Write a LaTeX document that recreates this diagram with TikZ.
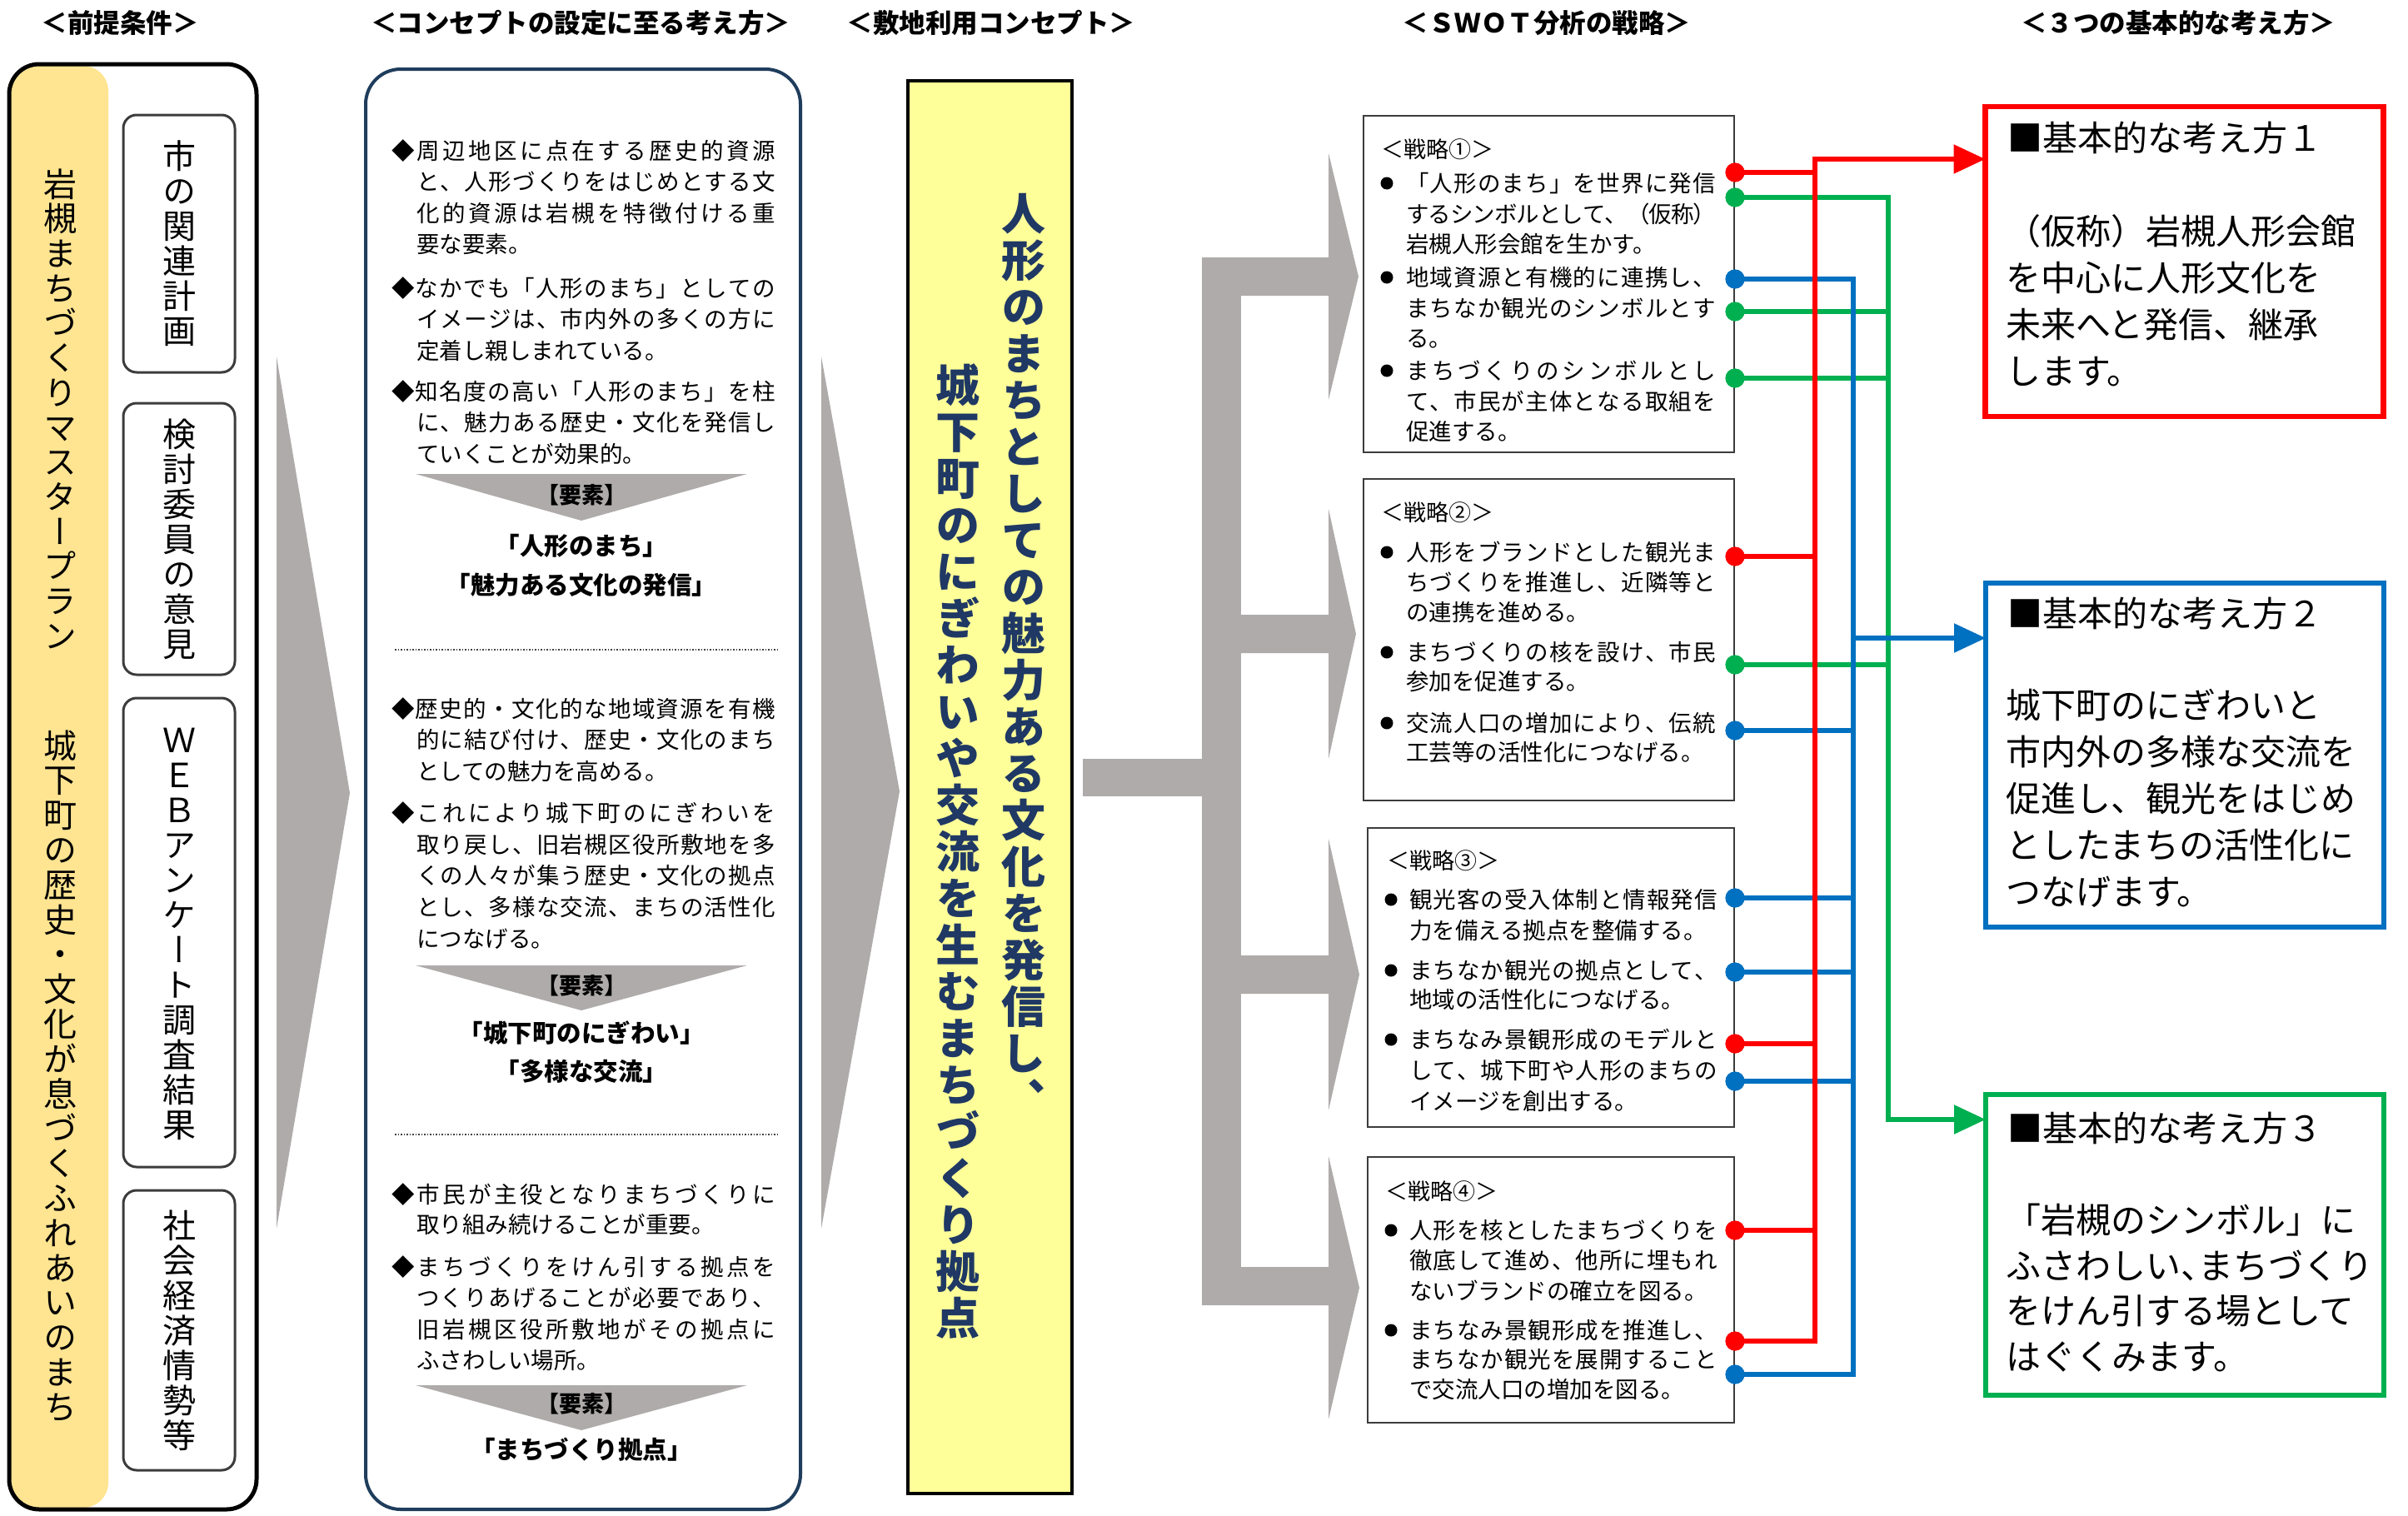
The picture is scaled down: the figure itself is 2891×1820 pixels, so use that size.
\documentclass[tikz,border=0pt]{standalone}
\usepackage{fontspec}
\setmainfont{Noto Sans CJK JP}
\newfontfamily\jpv[RawFeature=+vert]{Noto Sans CJK JP}
\usetikzlibrary{arrows.meta}
\definecolor{yelA}{RGB}{255,228,145}
\definecolor{yelB}{RGB}{255,255,153}
\definecolor{navyT}{RGB}{31,56,100}
\definecolor{navyB}{RGB}{31,61,92}
\definecolor{gry}{RGB}{174,171,170}
\definecolor{cred}{RGB}{255,0,0}
\definecolor{cgrn}{RGB}{0,176,80}
\definecolor{cblu}{RGB}{0,112,192}
\definecolor{dgr}{RGB}{60,60,60}
\newcommand\fs[1]{\fontsize{#1pt}{#1pt}\selectfont}
\def\jstrut{\vrule height .88em depth .12em width 0pt\relax}
\def\vtendmark{VTEND}
\newlength\vtp
\newlength\jw
\newlength\jind
\newcommand\vtext[2]{\setlength\vtp{#1}\vbox{\offinterlineskip\vtloop#2\vtendmark}}
\def\vtloop#1{\ifx#1\vtendmark\else\hbox to 1em{\hss\vbox to\vtp{\vss\hbox{\jstrut#1}\vss}\hss}\expandafter\vtloop\fi}
\def\sprloop#1{\ifx#1\vtendmark\else#1\expandafter\sprloopb\fi}
\def\sprloopb#1{\ifx#1\vtendmark\else\hskip 0pt plus 1fil minus 2pt\relax #1\expandafter\sprloopb\fi}
\newcommand\Jn[1]{\hbox to\jw{\jstrut\sprloop#1\vtendmark}}
\newcommand\Ln[1]{\hbox{\jstrut#1}}
\newcommand\Jd[1]{\hbox to\dimexpr\jw+\jind\relax{\jstrut\sprloop#1\vtendmark}}
\newcommand\Ji[1]{\hbox{\hskip\jind\hbox to\jw{\jstrut\sprloop#1\vtendmark}}}
\newcommand\Li[1]{\hbox{\hskip\jind\jstrut#1}}
\newcommand\para[2]{\vbox{\baselineskip=#1pt\lineskiplimit=-1000pt\lineskip=0pt\relax#2}}
\begin{document}
\begin{tikzpicture}[x=1pt,y=-1pt,
  every node/.style={inner sep=0pt,outer sep=0pt},
  hdr/.style={font=\fs{31.5}\bfseries},
  subbox/.style={draw=dgr,line width=3pt,rounded corners=16pt},
  sbox/.style={draw=dgr,line width=2.5pt},
  dotr/.style={circle,fill=cred,minimum size=23pt},
  dotg/.style={circle,fill=cgrn,minimum size=23pt},
  dotb/.style={circle,fill=cblu,minimum size=23pt},
  lr/.style={line width=5.5pt,draw=cred},
  lg/.style={line width=5.5pt,draw=cgrn},
  lb/.style={line width=5.5pt,draw=cblu},
  tip/.style={-{Triangle[length=38pt,width=34pt]}},
  colpara/.style={anchor=north west,font=\fs{27.5}},
  spara/.style={anchor=north west,font=\fs{27.5}},
  yoso/.style={font=\fs{27}\bfseries},
  elem/.style={font=\fs{29.5}\bfseries},
  bigbox/.style={line width=6.5pt,minimum width=478pt},
  bigtxt/.style={anchor=west,font=\fs{42}},
  bigpara/.style={anchor=north west,font=\fs{42}}
]
\useasboundingbox (0,0) rectangle (2891,1820);

% headers
\node[hdr] (H1) at (144,28) {\jstrut＜前提条件＞};
\node[hdr] (H2) at (697,28) {\jstrut＜コンセプトの設定に至る考え方＞};
\node[hdr] (H3) at (1190,28) {\jstrut＜敷地利用コンセプト＞};
\node[hdr] (H4) at (1857,28) {\jstrut＜ＳＷＯＴ分析の戦略＞};
\node[hdr] (H5) at (2615,28) {\jstrut＜３つの基本的な考え方＞};

% column 1
\node[fill=yelA,rounded corners=30pt,minimum width=117pt,minimum height=1731pt,anchor=north west] (c1y) at (13,79) {};
\node[draw=black,line width=5pt,rounded corners=36pt,minimum width=297pt,minimum height=1735pt] (c1) at (159.5,944.5) {};
\node (y1) at (72,492) {\jpv\fs{40}\vtext{41.7pt}{岩槻まちづくりマスタープラン}};
\node (y2) at (72,1292) {\jpv\fs{40}\vtext{41.8pt}{城下町の歴史・文化が息づくふれあいのまち}};
\node[subbox,minimum width=134pt,minimum height=309pt] (bA) at (215,292.5) {};
\node[subbox,minimum width=134pt,minimum height=326pt] (bB) at (215,647) {};
\node[subbox,minimum width=134pt,minimum height=563pt] (bC) at (215,1119.5) {};
\node[subbox,minimum width=134pt,minimum height=336pt] (bD) at (215,1597) {};
\node (tA) at (bA) {\jpv\fs{40}\vtext{42pt}{市の関連計画}};
\node (tB) at (bB) {\jpv\fs{40}\vtext{42pt}{検討委員の意見}};
\node (tC) at (bC) {\jpv\fs{40}\vtext{42pt}{ＷＥＢアンケート調査結果}};
\node (tD) at (bD) {\jpv\fs{40}\vtext{42pt}{社会経済情勢等}};

% chevrons
\fill[gry] (332,428) -- (420,952) -- (332,1475) -- cycle;
\fill[gry] (986,428) -- (1080,950) -- (986,1475) -- cycle;

% column 2
\node[draw=navyB,line width=4pt,rounded corners=42pt,minimum width=522pt,minimum height=1729pt] (c2) at (700,947.5) {};
\node[colpara] (pa) at (470,167) {\setlength\jw{431pt}\setlength\jind{30pt}\para{37.5}{%
\Jd{◆周辺地区に点在する歴史的資源}
\Ji{と、人形づくりをはじめとする文}
\Ji{化的資源は岩槻を特徴付ける重}
\Li{要な要素。}}};
\node[colpara] (pb) at (470,332) {\setlength\jw{431pt}\setlength\jind{30pt}\para{37.5}{%
\Jd{◆なかでも「人形のまち」としての}
\Ji{イメージは、市内外の多くの方に}
\Li{定着し親しまれている。}}};
\node[colpara] (pc) at (470,456) {\setlength\jw{431pt}\setlength\jind{30pt}\para{37.5}{%
\Jd{◆知名度の高い「人形のまち」を柱}
\Ji{に、魅力ある歴史・文化を発信し}
\Li{ていくことが効果的。}}};
\fill[gry] (499,569) -- (897,569) -- (698,625) -- cycle;
\node[yoso] (k1) at (698,594) {\jstrut【要素】};
\node[elem] (e1) at (698,655) {\jstrut「人形のまち」};
\node[elem] (e2) at (698,702) {\jstrut「魅力ある文化の発信」};
\draw[dotted,line width=1.5pt,black!75] (474,780) -- (934,780);
\node[colpara] (pd) at (470,837) {\setlength\jw{431pt}\setlength\jind{30pt}\para{37.5}{%
\Jd{◆歴史的・文化的な地域資源を有機}
\Ji{的に結び付け、歴史・文化のまち}
\Li{としての魅力を高める。}}};
\node[colpara] (pe) at (470,962) {\setlength\jw{431pt}\setlength\jind{30pt}\para{37.8}{%
\Jd{◆これにより城下町のにぎわいを}
\Ji{取り戻し、旧岩槻区役所敷地を多}
\Ji{くの人々が集う歴史・文化の拠点}
\Ji{とし、多様な交流、まちの活性化}
\Li{につなげる。}}};
\fill[gry] (499,1159) -- (897,1159) -- (698,1213) -- cycle;
\node[yoso] (k2) at (698,1183) {\jstrut【要素】};
\node[elem] (e3) at (698,1240) {\jstrut「城下町のにぎわい」};
\node[elem] (e4) at (698,1286) {\jstrut「多様な交流」};
\draw[dotted,line width=1.5pt,black!75] (474,1362) -- (934,1362);
\node[colpara] (pf) at (470,1420) {\setlength\jw{431pt}\setlength\jind{30pt}\para{36}{%
\Jd{◆市民が主役となりまちづくりに}
\Li{取り組み続けることが重要。}}};
\node[colpara] (pg) at (470,1507) {\setlength\jw{431pt}\setlength\jind{30pt}\para{37.5}{%
\Jd{◆まちづくりをけん引する拠点を}
\Ji{つくりあげることが必要であり、}
\Ji{旧岩槻区役所敷地がその拠点に}
\Li{ふさわしい場所。}}};
\fill[gry] (499,1663) -- (897,1663) -- (698,1717) -- cycle;
\node[yoso] (k3) at (698,1685) {\jstrut【要素】};
\node[elem] (e5) at (698,1740) {\jstrut「まちづくり拠点」};

% column 3
\node[fill=yelB,draw=black,line width=4.5pt,minimum width=197pt,minimum height=1696pt] (c3) at (1188.5,945) {};
\node[text=navyT] (v1) at (1229,788) {\jpv\bfseries\fs{53}\vtext{56pt}{人形のまちとしての魅力ある文化を発信し、}};
\node[text=navyT] (v2) at (1150,1022) {\jpv\bfseries\fs{53}\vtext{56pt}{城下町のにぎわいや交流を生むまちづくり拠点}};

% E connector
\fill[gry] (1300,911) rectangle (1447,956);
\fill[gry] (1443,309) rectangle (1490,1567);
\fill[gry] (1488,309) -- (1595,309) -- (1595,184) -- (1631,332) -- (1595,480) -- (1595,355) -- (1488,355) -- cycle;
\fill[gry] (1488,738) -- (1595,738) -- (1595,611) -- (1628,761) -- (1595,911) -- (1595,784) -- (1488,784) -- cycle;
\fill[gry] (1488,1147) -- (1595,1147) -- (1595,1007) -- (1632,1170) -- (1595,1333) -- (1595,1193) -- (1488,1193) -- cycle;
\fill[gry] (1488,1521) -- (1595,1521) -- (1595,1388) -- (1632,1546) -- (1595,1704) -- (1595,1567) -- (1488,1567) -- cycle;

% strategy boxes
\node[sbox,minimum width=445pt,minimum height=404pt] (S1) at (1859.5,341) {};
\node[sbox,minimum width=445pt,minimum height=386pt] (S2) at (1859.5,768) {};
\node[sbox,minimum width=440pt,minimum height=359pt] (S3) at (1862,1173.5) {};
\node[sbox,minimum width=440pt,minimum height=319pt] (S4) at (1862,1548.5) {};

\node[anchor=west,font=\fs{27}] (h1) at (1658,179) {\jstrut＜戦略①＞};
\node[anchor=west,font=\fs{27}] (h2) at (1658,615) {\jstrut＜戦略②＞};
\node[anchor=west,font=\fs{27}] (h3) at (1665,1033) {\jstrut＜戦略③＞};
\node[anchor=west,font=\fs{27}] (h4) at (1663,1430) {\jstrut＜戦略④＞};

\foreach \yy in {220,333,445,663,783,868} {\fill (1665,\yy) circle (7.5);}
\foreach \yy in {1080,1165,1248,1477,1597} {\fill (1670,\yy) circle (7.5);}

\node[spara] (s11) at (1688,206.25) {\setlength\jw{372pt}\para{36.7}{%
\Jn{「人形のまち」を世界に発信}
\Jn{するシンボルとして、（仮称）}
\Ln{岩槻人形会館を生かす。}}};
\node[spara] (s12) at (1688,319.25) {\setlength\jw{372pt}\para{36.7}{%
\Jn{地域資源と有機的に連携し、}
\Jn{まちなか観光のシンボルとす}
\Ln{る。}}};
\node[spara] (s13) at (1688,431.25) {\setlength\jw{372pt}\para{36.7}{%
\Jn{まちづくりのシンボルとし}
\Jn{て、市民が主体となる取組を}
\Ln{促進する。}}};

\node[spara] (s21) at (1688,649.25) {\setlength\jw{372pt}\para{36}{%
\Jn{人形をブランドとした観光ま}
\Jn{ちづくりを推進し、近隣等と}
\Ln{の連携を進める。}}};
\node[spara] (s22) at (1688,769.25) {\setlength\jw{372pt}\para{35.5}{%
\Jn{まちづくりの核を設け、市民}
\Ln{参加を促進する。}}};
\node[spara] (s23) at (1688,854.25) {\setlength\jw{372pt}\para{35.5}{%
\Jn{交流人口の増加により、伝統}
\Ln{工芸等の活性化につなげる。}}};

\node[spara] (s31) at (1692,1066.25) {\setlength\jw{370pt}\para{37}{%
\Jn{観光客の受入体制と情報発信}
\Ln{力を備える拠点を整備する。}}};
\node[spara] (s32) at (1692,1151.25) {\setlength\jw{370pt}\para{35.5}{%
\Jn{まちなか観光の拠点として、}
\Ln{地域の活性化につなげる。}}};
\node[spara] (s33) at (1692,1234.25) {\setlength\jw{370pt}\para{37}{%
\Jn{まちなみ景観形成のモデルと}
\Jn{して、城下町や人形のまちの}
\Ln{イメージを創出する。}}};

\node[spara] (s41) at (1692,1463.25) {\setlength\jw{370pt}\para{36.5}{%
\Jn{人形を核としたまちづくりを}
\Jn{徹底して進め、他所に埋もれ}
\Ln{ないブランドの確立を図る。}}};
\node[spara] (s42) at (1692,1583.25) {\setlength\jw{370pt}\para{35.5}{%
\Jn{まちなみ景観形成を推進し、}
\Jn{まちなか観光を展開すること}
\Ln{で交流人口の増加を図る。}}};

% basic idea boxes
\node[bigbox,draw=cred,minimum height=372pt] (B1) at (2622.5,314) {};
\node[bigbox,draw=cblu,minimum height=413pt] (B2) at (2623,906.5) {};
\node[bigbox,draw=cgrn,minimum height=361pt] (B3) at (2623,1494.5) {};

\node[bigtxt] (T1) at (2410,166) {\jstrut■基本的な考え方１};
\node[bigpara] (P1) at (2408,257) {\para{56}{%
\Ln{（仮称）岩槻人形会館}
\Ln{を中心に人形文化を}
\Ln{未来へと発信、継承}
\Ln{します。}}};
\node[bigtxt] (T2) at (2410,737) {\jstrut■基本的な考え方２};
\node[bigpara] (P2) at (2408,826) {\para{56}{%
\Ln{城下町のにぎわいと}
\Ln{市内外の多様な交流を}
\Ln{促進し、観光をはじめ}
\Ln{としたまちの活性化に}
\Ln{つなげます。}}};
\node[bigtxt] (T3) at (2410,1355) {\jstrut■基本的な考え方３};
\node[bigpara] (P3) at (2408,1444) {\para{54.5}{%
\Ln{「岩槻のシンボル」に}
\Ln{ふさわしい、\kern-.5emまちづくり}
\Ln{をけん引する場として}
\Ln{はぐくみます。}}};

% connector dots
\node[dotr] (r1) at (2083,207) {};
\node[dotg] (g1) at (2083,237) {};
\node[dotb] (b1) at (2083,335) {};
\node[dotg] (g2) at (2083,374) {};
\node[dotg] (g3) at (2083,454) {};
\node[dotr] (r2) at (2083,668) {};
\node[dotg] (g4) at (2083,798) {};
\node[dotb] (b2) at (2083,877) {};
\node[dotb] (b3) at (2083,1078) {};
\node[dotb] (b4) at (2083,1167) {};
\node[dotr] (r3) at (2083,1253) {};
\node[dotb] (b5) at (2083,1298) {};
\node[dotr] (r4) at (2083,1477) {};
\node[dotr] (r5) at (2083,1610) {};
\node[dotb] (b6) at (2083,1650) {};

\coordinate (rx) at (2179,191);
\coordinate (bx) at (2225,335);
\coordinate (ba) at (2225,766);
\coordinate (gx) at (2267,237);
\coordinate (ga) at (2267,1344);

% green
\draw[lg,tip] (g1.center) -- (gx) -- (ga) -- (ga -| B3.west);
\foreach \n in {g2,g3,g4} {\draw[lg] (\n.center) -- (\n.center -| gx);}
% blue
\draw[lb] (b1.center) -- (bx) -- (b6.center -| bx) -- (b6.center);
\foreach \n in {b2,b3,b4,b5} {\draw[lb] (\n.center) -- (\n.center -| bx);}
\draw[lb,tip] (ba) -- (ba -| B2.west);
% red
\draw[lr,tip] (r5.center) -- (r5.center -| rx) -- (rx) -- (rx -| B1.west);
\foreach \n in {r1,r2,r3,r4} {\draw[lr] (\n.center) -- (\n.center -| rx);}
% redraw dots on top
\foreach \n/\c in {r1/cred,g1/cgrn,b1/cblu,g2/cgrn,g3/cgrn,r2/cred,g4/cgrn,b2/cblu,b3/cblu,b4/cblu,r3/cred,b5/cblu,r4/cred,r5/cred,b6/cblu} {\fill[\c] (\n) circle (11.5);}
\end{tikzpicture}
\end{document}
